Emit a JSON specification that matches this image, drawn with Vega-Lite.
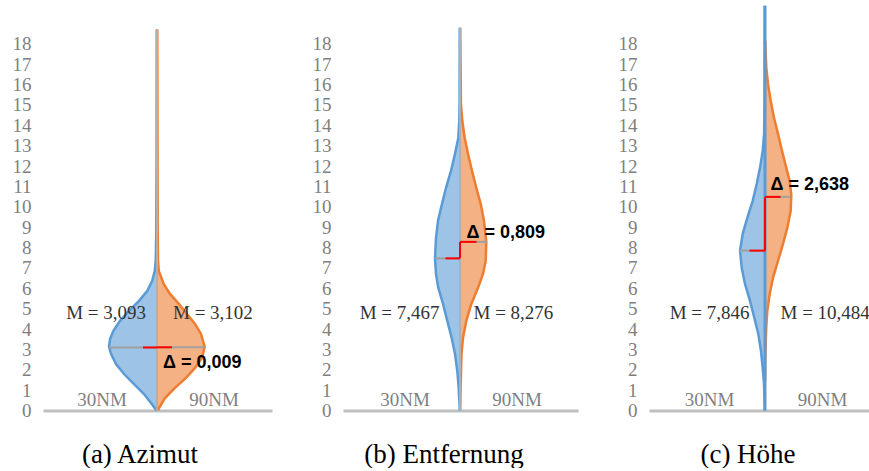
{
  "$schema": "https://vega.github.io/schema/vega-lite/v6.json",
  "padding": {"left": 12, "top": 0, "right": 0, "bottom": 0},
  "autosize": {"type": "pad"},
  "background": "white",
  "datasets": {
    "vio": [
      {"p":"a","s":"L","y":18.7,"x":-0.3},{"p":"a","s":"L","y":12.75,"x":-0.4},{"p":"a","s":"L","y":8.8,"x":-0.7},{"p":"a","s":"L","y":7.34,"x":-1.3},{"p":"a","s":"L","y":6.85,"x":-2.2},{"p":"a","s":"L","y":6.36,"x":-4.8},{"p":"a","s":"L","y":5.87,"x":-9.7},{"p":"a","s":"L","y":5.38,"x":-18},{"p":"a","s":"L","y":4.89,"x":-28},{"p":"a","s":"L","y":4.4,"x":-37},{"p":"a","s":"L","y":3.9,"x":-43.7},{"p":"a","s":"L","y":3.51,"x":-47},{"p":"a","s":"L","y":3.13,"x":-48},{"p":"a","s":"L","y":2.78,"x":-46},{"p":"a","s":"L","y":2.28,"x":-41},{"p":"a","s":"L","y":1.79,"x":-33},{"p":"a","s":"L","y":1.3,"x":-23},{"p":"a","s":"L","y":0.81,"x":-13},{"p":"a","s":"L","y":0.37,"x":-6},{"p":"a","s":"L","y":0,"x":-0.5},
      {"p":"a","s":"R","y":18.7,"x":0.3},{"p":"a","s":"R","y":8.8,"x":0.7},{"p":"a","s":"R","y":7.34,"x":1},{"p":"a","s":"R","y":6.85,"x":1.8},{"p":"a","s":"R","y":6.21,"x":6.7},{"p":"a","s":"R","y":5.72,"x":13},{"p":"a","s":"R","y":5.23,"x":22},{"p":"a","s":"R","y":4.74,"x":30},{"p":"a","s":"R","y":4.25,"x":38},{"p":"a","s":"R","y":3.76,"x":44},{"p":"a","s":"R","y":3.13,"x":47.7},{"p":"a","s":"R","y":2.58,"x":45},{"p":"a","s":"R","y":2.09,"x":38},{"p":"a","s":"R","y":1.6,"x":29},{"p":"a","s":"R","y":1.11,"x":18},{"p":"a","s":"R","y":0.61,"x":8},{"p":"a","s":"R","y":0.12,"x":2},{"p":"a","s":"R","y":0,"x":1},
      {"p":"b","s":"L","y":18.79,"x":-0.3},{"p":"b","s":"L","y":15.05,"x":-0.4},{"p":"b","s":"L","y":14.22,"x":-0.7},{"p":"b","s":"L","y":13.38,"x":-1.7},{"p":"b","s":"L","y":12.6,"x":-5},{"p":"b","s":"L","y":11.76,"x":-9},{"p":"b","s":"L","y":10.93,"x":-14},{"p":"b","s":"L","y":10.14,"x":-18},{"p":"b","s":"L","y":9.31,"x":-22},{"p":"b","s":"L","y":8.47,"x":-24},{"p":"b","s":"L","y":7.47,"x":-25},{"p":"b","s":"L","y":6.7,"x":-24},{"p":"b","s":"L","y":6.02,"x":-21.7},{"p":"b","s":"L","y":5.23,"x":-17},{"p":"b","s":"L","y":4.4,"x":-12.7},{"p":"b","s":"L","y":3.56,"x":-8.3},{"p":"b","s":"L","y":2.77,"x":-5},{"p":"b","s":"L","y":1.94,"x":-2.7},{"p":"b","s":"L","y":1.11,"x":-1.3},{"p":"b","s":"L","y":0.32,"x":-0.5},{"p":"b","s":"L","y":0,"x":-0.3},
      {"p":"b","s":"R","y":18.79,"x":0.3},{"p":"b","s":"R","y":15.05,"x":0.9},{"p":"b","s":"R","y":14.22,"x":2.3},{"p":"b","s":"R","y":13.38,"x":4.7},{"p":"b","s":"R","y":12.6,"x":8},{"p":"b","s":"R","y":11.76,"x":12},{"p":"b","s":"R","y":10.93,"x":16.3},{"p":"b","s":"R","y":10.14,"x":20.7},{"p":"b","s":"R","y":9.31,"x":24},{"p":"b","s":"R","y":8.28,"x":26.3},{"p":"b","s":"R","y":7.34,"x":25.7},{"p":"b","s":"R","y":6.7,"x":23},{"p":"b","s":"R","y":6.02,"x":18},{"p":"b","s":"R","y":5.23,"x":11.3},{"p":"b","s":"R","y":4.4,"x":6.3},{"p":"b","s":"R","y":3.56,"x":3},{"p":"b","s":"R","y":2.77,"x":1.5},{"p":"b","s":"R","y":1.94,"x":1},{"p":"b","s":"R","y":1.11,"x":0.6},{"p":"b","s":"R","y":0,"x":0.3},
      {"p":"c","s":"L","y":19.87,"x":-0.3},{"p":"c","s":"L","y":15.2,"x":-0.4},{"p":"c","s":"L","y":13.58,"x":-0.9},{"p":"c","s":"L","y":12.74,"x":-2.3},{"p":"c","s":"L","y":11.91,"x":-5},{"p":"c","s":"L","y":11.12,"x":-8.3},{"p":"c","s":"L","y":10.29,"x":-12.3},{"p":"c","s":"L","y":9.45,"x":-17.7},{"p":"c","s":"L","y":8.67,"x":-22.3},{"p":"c","s":"L","y":7.85,"x":-25},{"p":"c","s":"L","y":7.0,"x":-23.3},{"p":"c","s":"L","y":6.21,"x":-20},{"p":"c","s":"L","y":5.38,"x":-15},{"p":"c","s":"L","y":4.55,"x":-10.7},{"p":"c","s":"L","y":3.76,"x":-6.7},{"p":"c","s":"L","y":2.92,"x":-4},{"p":"c","s":"L","y":2.09,"x":-2.3},{"p":"c","s":"L","y":1.3,"x":-1},{"p":"c","s":"L","y":0.47,"x":-0.5},{"p":"c","s":"L","y":0,"x":-0.3},
      {"p":"c","s":"R","y":18.15,"x":0.3},{"p":"c","s":"R","y":17.66,"x":0.6},{"p":"c","s":"R","y":16.82,"x":1.3},{"p":"c","s":"R","y":16.03,"x":3},{"p":"c","s":"R","y":15.2,"x":5.7},{"p":"c","s":"R","y":14.37,"x":9},{"p":"c","s":"R","y":13.58,"x":13},{"p":"c","s":"R","y":12.74,"x":17},{"p":"c","s":"R","y":11.91,"x":21.3},{"p":"c","s":"R","y":11.27,"x":24.7},{"p":"c","s":"R","y":10.58,"x":26.3},{"p":"c","s":"R","y":9.8,"x":25.7},{"p":"c","s":"R","y":8.96,"x":22.3},{"p":"c","s":"R","y":8.18,"x":18},{"p":"c","s":"R","y":7.34,"x":13},{"p":"c","s":"R","y":6.51,"x":8},{"p":"c","s":"R","y":5.72,"x":4.7},{"p":"c","s":"R","y":4.89,"x":2.3},{"p":"c","s":"R","y":4.05,"x":1.2},{"p":"c","s":"R","y":3.27,"x":0.7},{"p":"c","s":"R","y":2.43,"x":0.3},{"p":"c","s":"R","y":1.45,"x":0.1}
    ],
    "seg": [
      {"p":"a","k":"ctr","x":0,"x2":0,"y":0,"y2":18.7},
      {"p":"a","k":"mean","x":-48,"x2":0,"y":3.093,"y2":3.093},
      {"p":"a","k":"mean","x":0,"x2":48,"y":3.102,"y2":3.102},
      {"p":"a","k":"diff","x":-14,"x2":0,"y":3.093,"y2":3.093},
      {"p":"a","k":"diff","x":0,"x2":0,"y":3.093,"y2":3.102},
      {"p":"a","k":"diff","x":0,"x2":15,"y":3.102,"y2":3.102},
      {"p":"b","k":"ctr","x":0,"x2":0,"y":0,"y2":18.79},
      {"p":"b","k":"mean","x":-25,"x2":0,"y":7.467,"y2":7.467},
      {"p":"b","k":"mean","x":0,"x2":27,"y":8.276,"y2":8.276},
      {"p":"b","k":"diff","x":-14.5,"x2":0,"y":7.467,"y2":7.467},
      {"p":"b","k":"diff","x":0,"x2":0,"y":7.467,"y2":8.276},
      {"p":"b","k":"diff","x":0,"x2":16.5,"y":8.276,"y2":8.276},
      {"p":"c","k":"ctr","x":0,"x2":0,"y":0,"y2":19.87},
      {"p":"c","k":"mean","x":-26,"x2":0,"y":7.846,"y2":7.846},
      {"p":"c","k":"mean","x":0,"x2":25.5,"y":10.484,"y2":10.484},
      {"p":"c","k":"diff","x":-15.5,"x2":0,"y":7.846,"y2":7.846},
      {"p":"c","k":"diff","x":0,"x2":0,"y":7.846,"y2":10.484},
      {"p":"c","k":"diff","x":0,"x2":15.5,"y":10.484,"y2":10.484}
    ],
    "lab": [
      {"p":"a","k":"nm","t":"30NM","x":-55,"y":0.22},
      {"p":"a","k":"nm","t":"90NM","x":57,"y":0.22},
      {"p":"a","k":"mL","t":"M = 3,093","x":-11,"y":4.49},
      {"p":"a","k":"mR","t":"M = 3,102","x":16,"y":4.49},
      {"p":"a","k":"d","t":"Δ = 0,009","x":6,"y":2.09},
      {"p":"b","k":"nm","t":"30NM","x":-55,"y":0.22},
      {"p":"b","k":"nm","t":"90NM","x":57,"y":0.22},
      {"p":"b","k":"mL","t":"M = 7,467","x":-20.5,"y":4.49},
      {"p":"b","k":"mR","t":"M = 8,276","x":13.5,"y":4.49},
      {"p":"b","k":"d","t":"Δ = 0,809","x":6.5,"y":8.47},
      {"p":"c","k":"nm","t":"30NM","x":-55.5,"y":0.22},
      {"p":"c","k":"nm","t":"90NM","x":57.5,"y":0.22},
      {"p":"c","k":"mL","t":"M = 7,846","x":-15.5,"y":4.49},
      {"p":"c","k":"mR","t":"M = 10,484","x":15.5,"y":4.49},
      {"p":"c","k":"d","t":"Δ = 2,638","x":5.5,"y":10.82}
    ]
  },
  "hconcat": [
    {
      "width": 229, "height": 407.5,
      "encoding": {
        "x": {"field":"x","type":"quantitative","scale":{"domain":[-114,115],"nice":false,"zero":false},"axis":{"title":"(a) Azimut","titleX":96.5}},
        "y": {"field":"y","type":"quantitative","scale":{"domain":[0,20],"nice":false},"axis":{"title":null,"values":[0,1,2,3,4,5,6,7,8,9,10,11,12,13,14,15,16,17,18]}}
      },
      "layer": [
        {"data":{"name":"vio"},"transform":[{"filter":"datum.p==='a' && datum.s==='L'"}],"mark":{"type":"area","orient":"horizontal","fill":"#9dc3e6"}},
        {"data":{"name":"vio"},"transform":[{"filter":"datum.p==='a' && datum.s==='R'"}],"mark":{"type":"area","orient":"horizontal","fill":"#f4b183"}},
        {"data":{"name":"vio"},"transform":[{"filter":"datum.p==='a' && datum.s==='L'"}],"mark":{"type":"line","stroke":"#5b9bd5","strokeWidth":2.5},"encoding":{"order":{"field":"y","type":"quantitative"}}},
        {"data":{"name":"vio"},"transform":[{"filter":"datum.p==='a' && datum.s==='R'"}],"mark":{"type":"line","stroke":"#ed7d31","strokeWidth":2.5},"encoding":{"order":{"field":"y","type":"quantitative"}}},
        {"data":{"name":"seg"},"transform":[{"filter":"datum.p==='a' && datum.k==='ctr'"}],"mark":{"type":"rule","stroke":"#b0b0b0","strokeWidth":2},"encoding":{"x2":{"field":"x2"},"y2":{"field":"y2"}}},
        {"data":{"name":"seg"},"transform":[{"filter":"datum.p==='a' && datum.k==='mean'"}],"mark":{"type":"rule","stroke":"#a0a0a0","strokeWidth":2},"encoding":{"x2":{"field":"x2"},"y2":{"field":"y2"}}},
        {"data":{"name":"seg"},"transform":[{"filter":"datum.p==='a' && datum.k==='diff'"}],"mark":{"type":"rule","stroke":"#ff0000","strokeWidth":2},"encoding":{"x2":{"field":"x2"},"y2":{"field":"y2"}}},
        {"data":{"name":"lab"},"transform":[{"filter":"datum.p==='a' && datum.k==='nm'"}],"mark":{"type":"text","align":"center","baseline":"alphabetic","font":"Liberation Serif","fontSize":19,"fill":"#7f7f7f"},"encoding":{"text":{"field":"t"}}},
        {"data":{"name":"lab"},"transform":[{"filter":"datum.p==='a' && datum.k==='mL'"}],"mark":{"type":"text","align":"right","baseline":"alphabetic","font":"Liberation Serif","fontSize":19,"fill":"#333333"},"encoding":{"text":{"field":"t"}}},
        {"data":{"name":"lab"},"transform":[{"filter":"datum.p==='a' && datum.k==='mR'"}],"mark":{"type":"text","align":"left","baseline":"alphabetic","font":"Liberation Serif","fontSize":19,"fill":"#333333"},"encoding":{"text":{"field":"t"}}},
        {"data":{"name":"lab"},"transform":[{"filter":"datum.p==='a' && datum.k==='d'"}],"mark":{"type":"text","align":"left","baseline":"alphabetic","font":"Liberation Sans","fontWeight":"bold","fontSize":18,"fill":"#000000"},"encoding":{"text":{"field":"t"}}}
      ]
    },
    {
      "width": 235, "height": 407.5,
      "encoding": {
        "x": {"field":"x","type":"quantitative","scale":{"domain":[-117,118],"nice":false,"zero":false},"axis":{"title":"(b) Entfernung","titleX":100.5}},
        "y": {"field":"y","type":"quantitative","scale":{"domain":[0,20],"nice":false},"axis":{"title":null,"values":[0,1,2,3,4,5,6,7,8,9,10,11,12,13,14,15,16,17,18]}}
      },
      "layer": [
        {"data":{"name":"vio"},"transform":[{"filter":"datum.p==='b' && datum.s==='L'"}],"mark":{"type":"area","orient":"horizontal","fill":"#9dc3e6"}},
        {"data":{"name":"vio"},"transform":[{"filter":"datum.p==='b' && datum.s==='R'"}],"mark":{"type":"area","orient":"horizontal","fill":"#f4b183"}},
        {"data":{"name":"vio"},"transform":[{"filter":"datum.p==='b' && datum.s==='L'"}],"mark":{"type":"line","stroke":"#5b9bd5","strokeWidth":2.5},"encoding":{"order":{"field":"y","type":"quantitative"}}},
        {"data":{"name":"vio"},"transform":[{"filter":"datum.p==='b' && datum.s==='R'"}],"mark":{"type":"line","stroke":"#ed7d31","strokeWidth":2.5},"encoding":{"order":{"field":"y","type":"quantitative"}}},
        {"data":{"name":"seg"},"transform":[{"filter":"datum.p==='b' && datum.k==='ctr'"}],"mark":{"type":"rule","stroke":"#b0b0b0","strokeWidth":2},"encoding":{"x2":{"field":"x2"},"y2":{"field":"y2"}}},
        {"data":{"name":"seg"},"transform":[{"filter":"datum.p==='b' && datum.k==='mean'"}],"mark":{"type":"rule","stroke":"#a0a0a0","strokeWidth":2},"encoding":{"x2":{"field":"x2"},"y2":{"field":"y2"}}},
        {"data":{"name":"seg"},"transform":[{"filter":"datum.p==='b' && datum.k==='diff'"}],"mark":{"type":"rule","stroke":"#ff0000","strokeWidth":2},"encoding":{"x2":{"field":"x2"},"y2":{"field":"y2"}}},
        {"data":{"name":"lab"},"transform":[{"filter":"datum.p==='b' && datum.k==='nm'"}],"mark":{"type":"text","align":"center","baseline":"alphabetic","font":"Liberation Serif","fontSize":19,"fill":"#7f7f7f"},"encoding":{"text":{"field":"t"}}},
        {"data":{"name":"lab"},"transform":[{"filter":"datum.p==='b' && datum.k==='mL'"}],"mark":{"type":"text","align":"right","baseline":"alphabetic","font":"Liberation Serif","fontSize":19,"fill":"#333333"},"encoding":{"text":{"field":"t"}}},
        {"data":{"name":"lab"},"transform":[{"filter":"datum.p==='b' && datum.k==='mR'"}],"mark":{"type":"text","align":"left","baseline":"alphabetic","font":"Liberation Serif","fontSize":19,"fill":"#333333"},"encoding":{"text":{"field":"t"}}},
        {"data":{"name":"lab"},"transform":[{"filter":"datum.p==='b' && datum.k==='d'"}],"mark":{"type":"text","align":"left","baseline":"alphabetic","font":"Liberation Sans","fontWeight":"bold","fontSize":18,"fill":"#000000"},"encoding":{"text":{"field":"t"}}}
      ]
    },
    {
      "width": 232, "height": 407.5,
      "encoding": {
        "x": {"field":"x","type":"quantitative","scale":{"domain":[-116,116],"nice":false,"zero":false},"axis":{"title":"(c) Höhe","titleX":98.5}},
        "y": {"field":"y","type":"quantitative","scale":{"domain":[0,20],"nice":false},"axis":{"title":null,"values":[0,1,2,3,4,5,6,7,8,9,10,11,12,13,14,15,16,17,18]}}
      },
      "layer": [
        {"data":{"name":"vio"},"transform":[{"filter":"datum.p==='c' && datum.s==='L'"}],"mark":{"type":"area","orient":"horizontal","fill":"#9dc3e6"}},
        {"data":{"name":"vio"},"transform":[{"filter":"datum.p==='c' && datum.s==='R'"}],"mark":{"type":"area","orient":"horizontal","fill":"#f4b183"}},
        {"data":{"name":"vio"},"transform":[{"filter":"datum.p==='c' && datum.s==='L'"}],"mark":{"type":"line","stroke":"#5b9bd5","strokeWidth":2.5},"encoding":{"order":{"field":"y","type":"quantitative"}}},
        {"data":{"name":"vio"},"transform":[{"filter":"datum.p==='c' && datum.s==='R'"}],"mark":{"type":"line","stroke":"#ed7d31","strokeWidth":2.5},"encoding":{"order":{"field":"y","type":"quantitative"}}},
        {"data":{"name":"seg"},"transform":[{"filter":"datum.p==='c' && datum.k==='ctr'"}],"mark":{"type":"rule","stroke":"#5b9bd5","strokeWidth":3},"encoding":{"x2":{"field":"x2"},"y2":{"field":"y2"}}},
        {"data":{"name":"seg"},"transform":[{"filter":"datum.p==='c' && datum.k==='mean'"}],"mark":{"type":"rule","stroke":"#a0a0a0","strokeWidth":2},"encoding":{"x2":{"field":"x2"},"y2":{"field":"y2"}}},
        {"data":{"name":"seg"},"transform":[{"filter":"datum.p==='c' && datum.k==='diff'"}],"mark":{"type":"rule","stroke":"#ff0000","strokeWidth":2},"encoding":{"x2":{"field":"x2"},"y2":{"field":"y2"}}},
        {"data":{"name":"lab"},"transform":[{"filter":"datum.p==='c' && datum.k==='nm'"}],"mark":{"type":"text","align":"center","baseline":"alphabetic","font":"Liberation Serif","fontSize":19,"fill":"#7f7f7f"},"encoding":{"text":{"field":"t"}}},
        {"data":{"name":"lab"},"transform":[{"filter":"datum.p==='c' && datum.k==='mL'"}],"mark":{"type":"text","align":"right","baseline":"alphabetic","font":"Liberation Serif","fontSize":19,"fill":"#333333"},"encoding":{"text":{"field":"t"}}},
        {"data":{"name":"lab"},"transform":[{"filter":"datum.p==='c' && datum.k==='mR'"}],"mark":{"type":"text","align":"left","baseline":"alphabetic","font":"Liberation Serif","fontSize":19,"fill":"#333333"},"encoding":{"text":{"field":"t"}}},
        {"data":{"name":"lab"},"transform":[{"filter":"datum.p==='c' && datum.k==='d'"}],"mark":{"type":"text","align":"left","baseline":"alphabetic","font":"Liberation Sans","fontWeight":"bold","fontSize":18,"fill":"#000000"},"encoding":{"text":{"field":"t"}}}
      ]
    }
  ],
  "config": {
    "view": {"stroke": null},
    "concat": {"spacing": 40},
    "axisY": {"domain": false, "ticks": false, "tickSize": 0, "grid": false, "labelFont": "Liberation Serif", "labelFontSize": 19, "labelColor": "#7f7f7f", "labelPadding": 12, "labelOverlap": false, "minExtent": 31, "maxExtent": 31},
    "axisX": {"domain": true, "domainColor": "#bfbfbf", "domainWidth": 3, "ticks": false, "tickSize": 0, "labels": false, "grid": false, "titleFont": "Liberation Serif", "titleFontSize": 27, "titleFontWeight": "normal", "titleColor": "#000000", "titlePadding": 31, "titleAlign": "center", "titleBaseline": "top"}
  }
}
